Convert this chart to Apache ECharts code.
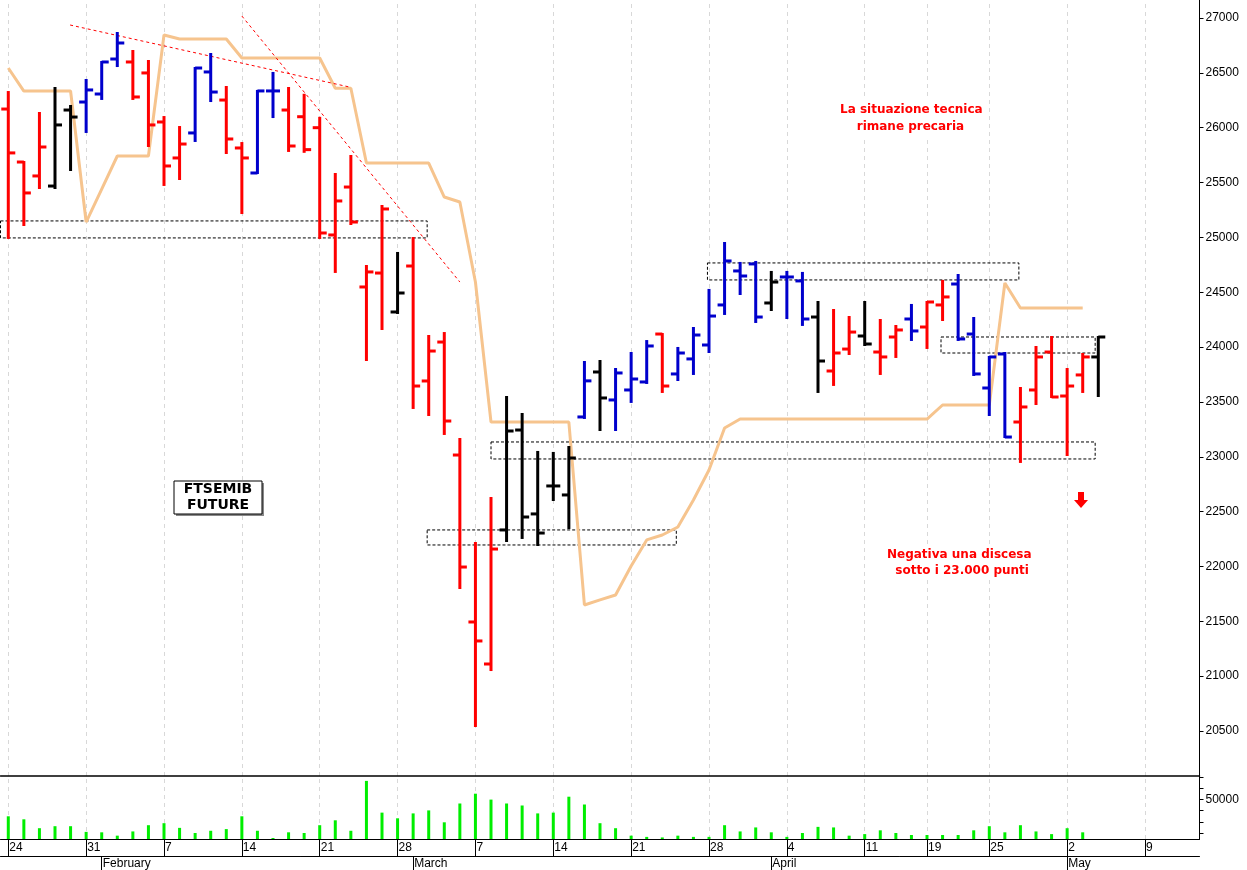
<!DOCTYPE html>
<html>
<head>
<meta charset="utf-8" />
<title>FTSEMIB Future</title>
<script src="https://cdn.jsdelivr.net/npm/echarts@6/dist/echarts.min.js"></script>
<style>
  html, body { margin: 0; padding: 0; background: #fff; }
  #chart { width: 1247px; height: 870px; }
</style>
</head>
<body>
<div id="chart"></div>
<script type="text/javascript">
  // trading days shown on the axis
  var dates = [
    '2022-01-24','2022-01-25','2022-01-26','2022-01-27','2022-01-28',
    '2022-01-31','2022-02-01','2022-02-02','2022-02-03','2022-02-04',
    '2022-02-07','2022-02-08','2022-02-09','2022-02-10','2022-02-11',
    '2022-02-14','2022-02-15','2022-02-16','2022-02-17','2022-02-18',
    '2022-02-21','2022-02-22','2022-02-23','2022-02-24','2022-02-25',
    '2022-02-28','2022-03-01','2022-03-02','2022-03-03','2022-03-04',
    '2022-03-07','2022-03-08','2022-03-09','2022-03-10','2022-03-11',
    '2022-03-14','2022-03-15','2022-03-16','2022-03-17','2022-03-18',
    '2022-03-21','2022-03-22','2022-03-23','2022-03-24','2022-03-25',
    '2022-03-28','2022-03-29','2022-03-30','2022-03-31','2022-04-01',
    '2022-04-04','2022-04-05','2022-04-06','2022-04-07','2022-04-08',
    '2022-04-11','2022-04-12','2022-04-13','2022-04-14',
    '2022-04-19','2022-04-20','2022-04-21','2022-04-22',
    '2022-04-25','2022-04-26','2022-04-27','2022-04-28','2022-04-29',
    '2022-05-02','2022-05-03','2022-05-04','2022-05-05','2022-05-06',
    '2022-05-09','2022-05-10','2022-05-11','2022-05-12'
  ];
  var monthNames = ['January','February','March','April','May','June'];

  var opens  = [26170,25687,25560,25468,26161,26234,26307,26626,26599,26499,26052,25724,25952,26508,26252,25815,25587,26335,26161,26100,
                26000,25022,25459,24548,24675,24320,24739,23691,24046,23016,21494,21111,22333,23244,22479,22734,22652,23363,23773,23518,
                23609,23682,24119,23755,23892,24019,24384,24694,24758,24402,24639,24603,24274,23782,23982,24101,23955,24092,24256,24183,
                24384,24575,24119,23627,23937,23317,23609,23955,23554,23746,23910];
  var highs  = [26325,25687,26134,26362,26198,26435,26599,26863,26699,26608,26097,26006,26544,26672,26371,25860,26335,26499,26362,26300,
                26090,25578,25742,24739,25286,24858,24994,24101,24128,23162,22214,22624,23545,23390,23044,23035,23089,23864,23873,23800,
                23946,24055,24119,23992,24174,24521,24949,24767,24776,24685,24685,24676,24411,24338,24274,24411,24247,24192,24384,24411,
                24603,24657,24265,23910,23946,23627,24001,24092,23800,23937,24092];
  var lows   = [24995,25113,25450,25450,25614,25961,26262,26562,26262,25833,25478,25532,25879,26243,25769,25222,25587,26097,25788,25780,
                24995,24685,25122,23882,24165,24311,23445,23381,23208,21804,20546,21056,22232,22260,22196,22606,22351,23354,23244,23244,
                23500,23673,23591,23700,23755,23955,24302,24484,24229,24338,24265,24202,23591,23655,23937,24019,23755,23910,24065,23992,
                24247,24065,23746,23381,23180,22953,23481,23545,23016,23591,23554];
  var closes = [25770,25405,25824,26025,26097,26344,26599,26772,26280,26025,25651,25851,26544,26325,25897,25724,26335,26335,25833,25800,
                25040,25332,25140,24685,25259,24493,23645,23964,23326,21995,21321,22159,23235,22451,22305,22734,22989,23692,23536,23764,
                23709,24010,23645,23946,24110,24283,24785,24648,24274,24593,24639,24256,23873,23946,24137,24028,23910,24156,24147,24411,
                24457,24074,23755,23910,23180,23454,23910,23545,23645,23910,24092];
  // u = blue, d = red, n = black
  var trend  = 'dddnnuuudddduudduudddddddnddddddnnnnnunuuuduuuuuunuunddnddudduuuudddddndnnn'.split('');

  var stopLine = [26544,26334,26334,26334,26334,25140,25440,25742,25742,25742,26845,26808,26808,26808,26808,26635,26635,26635,26635,26635,
                  26635,26360,26360,25678,25678,25678,25678,25678,25368,25323,24593,23317,23317,23317,23317,23317,23317,21649,21695,21740,
                  22005,22242,22287,22360,22606,22880,23262,23344,23344,23344,23344,23344,23344,23344,23344,23344,23344,23344,23344,23344,
                  23472,23472,23472,23472,24584,24356,24356,24356,24356,24356];

  var volumes = [35000,32300,24300,26100,26100,21000,20600,17600,21400,27000,28800,24600,20000,22000,23500,35000,22000,15500,20600,20000,
                 27000,31400,22000,66800,38300,33200,37600,40300,29600,46500,55300,50000,46500,44700,37600,38300,52600,45600,28800,24300,
                 17600,16500,16000,17600,16500,16500,27000,21400,25000,20600,16500,20000,25500,25000,17600,19000,22400,20000,18200,18200,
                 18200,18200,22400,26100,20600,27000,21400,19000,24300,20600];

  var priceTicks = [20500,21000,21500,22000,22500,23000,23500,24000,24500,25000,25500,26000,26500,27000];
  var volumeTicks = [20000,30000,40000,50000,60000,70000];
  var volumeLabels = [50000];

  // zones [fromIndex, toIndex, top, bottom]
  var zones = [
    [-0.5, 26.9, 25150, 24995],
    [26.9, 42.9, 22333, 22196],
    [31.0, 69.8, 23135, 22980],
    [44.9, 64.9, 24767, 24612],
    [59.9, 69.8, 24092, 23946]
  ];
  var trendLines = [
    [[3.97, 26936], [21.9, 26371]],
    [[15.0, 27018], [29.0, 24593]]
  ];

  var colorMap = { u: '#0000cc', d: '#ff0000', n: '#000000' };

  function toTime(s) { return new Date(s + 'T00:00:00Z').getTime(); }
  function isWeekStart(i) {
    return i === 0 || (toTime(dates[i]) - toTime(dates[i - 1])) > 2 * 86400000;
  }
  function isMonthStart(i) {
    return i > 0 && dates[i].slice(5, 7) !== dates[i - 1].slice(5, 7);
  }
  var weekStarts = dates.map(function (d, i) { return i; }).filter(isWeekStart);

  var ohlc = opens.map(function (o, i) { return [i, o, highs[i], lows[i], closes[i]]; });

  function renderBar(params, api) {
    var i = api.value(0);
    var pO = api.coord([i, api.value(1)]);
    var pH = api.coord([i, api.value(2)]);
    var pL = api.coord([i, api.value(3)]);
    var pC = api.coord([i, api.value(4)]);
    var c = colorMap[trend[params.dataIndex]];
    var st = { stroke: c, lineWidth: 3 };
    return {
      type: 'group',
      children: [
        { type: 'line', shape: { x1: pH[0], y1: pH[1] - 1, x2: pL[0], y2: pL[1] + 1 }, style: st },
        { type: 'line', shape: { x1: pO[0] - 7, y1: pO[1], x2: pO[0], y2: pO[1] }, style: st },
        { type: 'line', shape: { x1: pC[0], y1: pC[1], x2: pC[0] + 7, y2: pC[1] }, style: st }
      ]
    };
  }

  function weekGrid(xIdx, yIdx) {
    return { type: 'line', xAxisIndex: xIdx, yAxisIndex: yIdx, data: [], z: 0, zlevel: 0,
      markLine: { silent: true, symbol: 'none', label: { show: false }, z: 0,
        lineStyle: { color: '#d8d8d8', type: [4, 4], width: 1 },
        data: weekStarts.map(function (i) { return { xAxis: i }; }) } };
  }

  var labelFont = { fontFamily: 'Liberation Sans', fontSize: 12, color: '#000' };
  var plain = function (v) { return String(v); };

  var option = {
    animation: false,
    backgroundColor: '#ffffff',
    grid: [
      { left: 0.5, width: 1199, top: 0, height: 776 },
      { left: 0.5, width: 1199, top: 776, height: 64 }
    ],
    xAxis: [
      { type: 'category', gridIndex: 0, data: dates, boundaryGap: true,
        axisLine: { lineStyle: { color: '#000', width: 1.5 } },
        axisTick: { show: false }, axisLabel: { show: false }, splitLine: { show: false } },
      { type: 'value', gridIndex: 0, min: -0.5, max: 76.5, show: false },
      { type: 'category', gridIndex: 1, data: dates, boundaryGap: true, position: 'bottom',
        axisLine: { lineStyle: { color: '#000', width: 1 } },
        axisTick: { show: true, alignWithLabel: true, length: 17, interval: function (i) { return isWeekStart(i); },
                    lineStyle: { color: '#000' } },
        axisLabel: Object.assign({ interval: function (i) { return isWeekStart(i); }, align: 'left',
                    margin: 3, padding: [0, 0, 0, 1],
                    formatter: function (v) { return String(parseInt(v.slice(8, 10), 10)); } }, labelFont),
        splitLine: { show: false } },
      { type: 'category', gridIndex: 1, data: dates, boundaryGap: true, position: 'bottom', offset: 17,
        axisLine: { lineStyle: { color: '#000', width: 1 } },
        axisTick: { show: true, alignWithLabel: true, length: 14, interval: function (i) { return isMonthStart(i); },
                    lineStyle: { color: '#000' } },
        axisLabel: Object.assign({ interval: function (i) { return isMonthStart(i); }, align: 'left',
                    margin: 2, padding: [0, 0, 0, 1],
                    formatter: function (v) { return monthNames[parseInt(v.slice(5, 7), 10) - 1]; } }, labelFont) },
      { type: 'value', gridIndex: 1, min: -0.5, max: 76.5, show: false }
    ],
    yAxis: [
      { type: 'value', gridIndex: 0, position: 'right', min: 20090, max: 27164,
        axisLine: { show: true, onZero: false, lineStyle: { color: '#000' } },
        axisTick: { show: true, length: 4, customValues: priceTicks, lineStyle: { color: '#000' } },
        axisLabel: Object.assign({ customValues: priceTicks, margin: 6, formatter: plain }, labelFont),
        splitLine: { show: false } },
      { type: 'value', gridIndex: 1, position: 'right', min: 14600, max: 71200,
        axisLine: { show: true, onZero: false, lineStyle: { color: '#000' } },
        axisTick: { show: true, length: 4, customValues: volumeTicks, lineStyle: { color: '#000' } },
        axisLabel: Object.assign({ customValues: volumeLabels, margin: 6, formatter: plain }, labelFont),
        splitLine: { show: false } }
    ],
    series: [
      weekGrid(1, 0),
      weekGrid(4, 1),
      { type: 'line', xAxisIndex: 0, yAxisIndex: 0, data: stopLine, showSymbol: false,
        lineStyle: { color: '#f6c48e', width: 3 }, z: 5 },
      { type: 'custom', xAxisIndex: 0, yAxisIndex: 0, data: ohlc, renderItem: renderBar, z: 20,
        encode: { x: 0, y: [1, 2, 3, 4] } },
      { type: 'line', xAxisIndex: 1, yAxisIndex: 0, data: [], z: 10,
        markArea: { silent: true,
          itemStyle: { color: 'rgba(0,0,0,0)', borderColor: '#000', borderWidth: 1, borderType: [3, 2] },
          data: zones.map(function (z) { return [{ coord: [z[0], z[2]] }, { coord: [z[1], z[3]] }]; }) } },
      { type: 'line', xAxisIndex: 1, yAxisIndex: 0, data: trendLines[0], showSymbol: false, z: 10,
        lineStyle: { color: '#ff0000', width: 1, type: [3, 3] } },
      { type: 'line', xAxisIndex: 1, yAxisIndex: 0, data: trendLines[1], showSymbol: false, z: 10,
        lineStyle: { color: '#ff0000', width: 1, type: [3, 3] } },
      { type: 'bar', xAxisIndex: 2, yAxisIndex: 1, data: volumes, barWidth: 3, z: 20,
        itemStyle: { color: '#00ee00' } }
    ],
    graphic: [
      { type: 'rect', z: 90, shape: { x: 838, y: 100, width: 148, height: 36 }, style: { fill: '#fff' } },
      { type: 'text', z: 100, left: 840, top: 101, style: { text: 'La situazione tecnica\n    rimane precaria',
        fill: '#ff0000', font: 'bold 12px "DejaVu Sans"', lineHeight: 17 } },
      { type: 'rect', z: 90, shape: { x: 885, y: 546, width: 150, height: 34 }, style: { fill: '#fff' } },
      { type: 'text', z: 100, left: 887, top: 547, style: { text: 'Negativa una discesa\n  sotto i 23.000 punti',
        fill: '#ff0000', font: 'bold 12px "DejaVu Sans"', lineHeight: 16 } },
      { type: 'rect', z: 100, shape: { x: 176, y: 483, width: 88, height: 33 },
        style: { fill: '#888', stroke: null } },
      { type: 'rect', z: 100, shape: { x: 174, y: 481, width: 88, height: 33 },
        style: { fill: '#fff', stroke: '#000', lineWidth: 1 } },
      { type: 'text', z: 100, x: 218, y: 497, style: { text: 'FTSEMIB\nFUTURE', align: 'center', verticalAlign: 'middle',
        fill: '#000', font: 'bold 14px "DejaVu Sans"', lineHeight: 16 } },
      { type: 'polygon', z: 100, shape: { points: [[1078, 492], [1084, 492], [1084, 500], [1088, 500], [1081, 508], [1074, 500], [1078, 500]] },
        style: { fill: '#ff0000' } }
    ]
  };

  var myChart = echarts.init(document.getElementById('chart'));
  myChart.setOption(option);
</script>
</body>
</html>
